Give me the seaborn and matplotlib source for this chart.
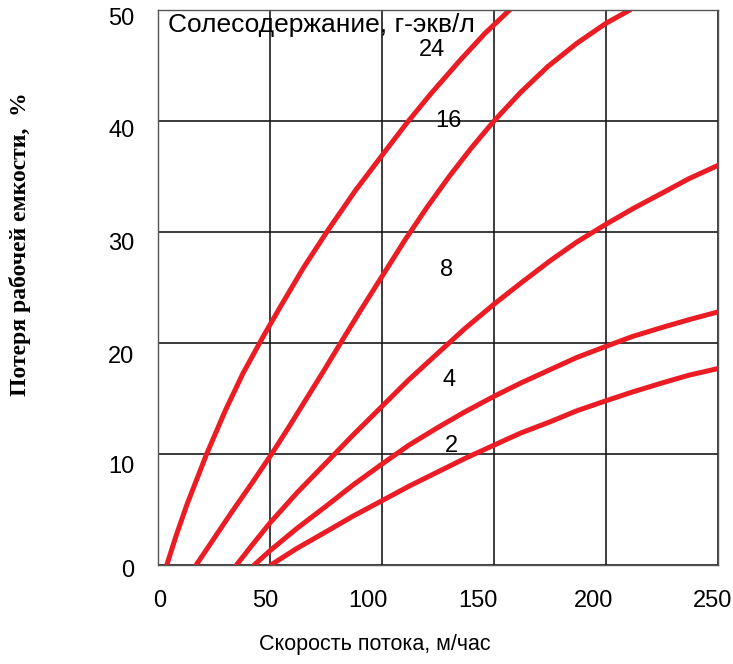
import matplotlib
matplotlib.use("Agg")
import matplotlib.pyplot as plt
from matplotlib.transforms import ScaledTranslation
import seaborn as sns
import pandas as pd

# ------------------------------------------------------------
# Данные: потеря рабочей емкости по солесодержанию (г-экв/л)
# ------------------------------------------------------------
x_24 = [3.9, 8, 13, 21.7, 30, 38, 47, 55, 65, 76, 88, 100, 111, 122, 135, 146, 157]
y_24 = [0, 2.6, 5.5, 10, 13.9, 17.3, 20.6, 23.4, 26.8, 30.2, 33.7, 36.9, 39.8, 42.5, 45.5, 47.9, 50]

x_16 = [17, 25, 33, 42, 50.7, 58, 66, 74, 81.5, 90, 100, 110, 120, 130, 140, 150, 162, 174, 187, 200, 210.7]
y_16 = [0, 2.4, 4.8, 7.4, 10, 12.3, 14.9, 17.5, 20, 22.8, 26.0, 29.2, 32.2, 35.0, 37.6, 40, 42.6, 44.9, 47.0, 48.8, 50]

x_8 = [35, 42, 50, 62, 75, 87, 100, 112, 125, 137, 150, 162, 175, 187, 200, 212, 225, 237, 250]
y_8 = [0, 1.8, 3.8, 6.5, 9.2, 11.7, 14.3, 16.7, 19.1, 21.3, 23.5, 25.4, 27.4, 29.1, 30.7, 32.1, 33.5, 34.8, 36.0]

x_4 = [42.9, 50, 62, 75, 87, 100, 112, 125, 137, 150, 162, 175, 187, 200, 212, 225, 237, 250]
y_4 = [0, 1.3, 3.3, 5.3, 7.2, 9.1, 10.8, 12.4, 13.8, 15.2, 16.4, 17.6, 18.7, 19.7, 20.6, 21.4, 22.1, 22.8]

x_2 = [50.3, 62, 75, 87, 100, 112, 125, 137, 150, 162, 175, 187, 200, 212, 225, 237, 250]
y_2 = [0, 1.5, 3.0, 4.4, 5.8, 7.1, 8.4, 9.6, 10.8, 11.9, 12.9, 13.9, 14.8, 15.6, 16.4, 17.1, 17.7]

curve_labels = ["24", "16", "8", "4", "2"]
label_x = [122.3, 129.5, 129, 130, 131]
label_y = [46.4, 40.0, 26.6, 16.7, 10.7]

x_ticks = [0, 50, 100, 150, 200, 250]
y_ticks = [0, 10, 20, 30, 40, 50]

# в оригинале подписи делений стоят немного неровно (сдвиг в пикселях)
x_tick_shift = [2, -5, -14, -16, -12, -5]
y_tick_shift = [-3, -10, -11, -9, -8, -7]

# ------------------------------------------------------------
# Оформление
# ------------------------------------------------------------
sns.set_style("white")
plt.rcParams["font.family"] = ["Liberation Sans", "DejaVu Sans"]
plt.rcParams["text.color"] = "black"
plt.rcParams["axes.labelcolor"] = "black"

curves = [(x_24, y_24), (x_16, y_16), (x_8, y_8), (x_4, y_4), (x_2, y_2)]
frames = []
for name, (xs, ys) in zip(curve_labels, curves):
    frames.append(pd.DataFrame({"v": xs, "loss": ys, "salt": name}))
df = pd.concat(frames, ignore_index=True)

fig = plt.figure(figsize=(7.33, 6.64), dpi=100)
ax = fig.add_axes([0.2156, 0.149, 0.7639, 0.836])

red = "#ec1c24"
sns.lineplot(data=df, x="v", y="loss", hue="salt", units="salt", estimator=None,
             sort=False, palette=[red] * 5, linewidth=3.6, legend=False, ax=ax)

ax.set_xlim(0, 250)
ax.set_ylim(0, 50)
ax.set_xticks(x_ticks)
ax.set_yticks(y_ticks)
ax.tick_params(axis="both", length=0, labelsize=17, colors="black")
ax.tick_params(axis="x", pad=18)
ax.tick_params(axis="y", pad=17)

for lbl, dx in zip(ax.get_xticklabels(), x_tick_shift):
    lbl.set_transform(lbl.get_transform() + ScaledTranslation(dx / 100, 0, fig.dpi_scale_trans))
for lbl, dy in zip(ax.get_yticklabels(), y_tick_shift):
    lbl.set_transform(lbl.get_transform() + ScaledTranslation(0, dy / 100, fig.dpi_scale_trans))

ax.grid(True, color="#1a1a1a", linewidth=1.2)
ax.set_axisbelow(True)
for sp in ax.spines.values():
    sp.set_visible(True)
    sp.set_color("#555555")
    sp.set_linewidth(1.0)

ax.text(4.5, 49.7, "Солесодержание, г-экв/л", fontsize=19, va="top", ha="left", color="black")
for lab, lx, ly in zip(curve_labels, label_x, label_y):
    ax.text(lx, ly, lab, fontsize=17, ha="center", va="center", color="black")

ax.set_xlabel("Скорость потока, м/час", fontsize=15.5, color="black")
ax.xaxis.set_label_coords(0.3875, -0.125)
ax.xaxis.label.set_verticalalignment("top")

ax.set_ylabel("Потеря рабочей емкости,  %", fontsize=17, fontweight="bold", color="black",
              family=["Liberation Serif", "DejaVu Serif"])
ax.yaxis.set_label_coords(-0.226, 0.578)

plt.savefig("out.png", dpi=100)
